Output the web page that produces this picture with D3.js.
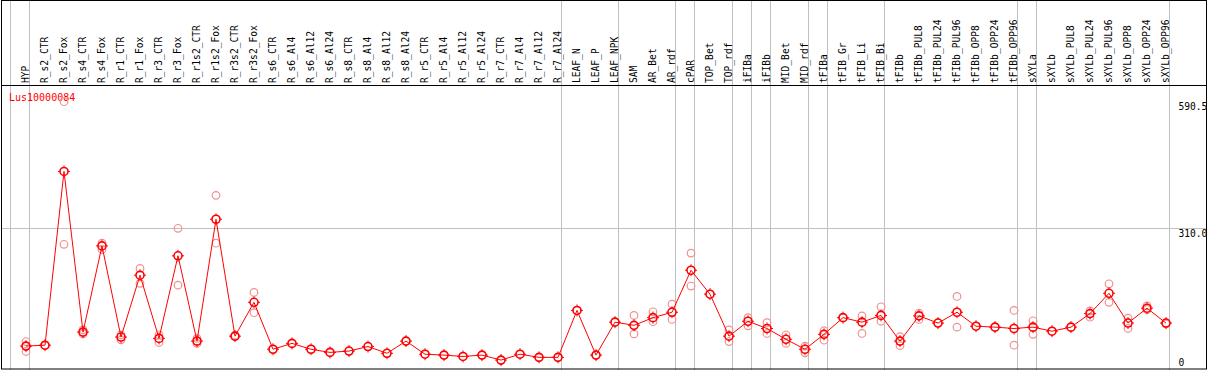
<!DOCTYPE html>
<html>
<head>
<meta charset="utf-8">
<script src="https://cdn.jsdelivr.net/npm/d3@7"></script>
<style>
  body { margin: 0; background: #fff; }
  text { font-family: "DejaVu Sans Mono", monospace; }
</style>
</head>
<body>
<svg width="1209" height="370"></svg>
<script>
const geneId = "Lus10000084";

const categories = ["HYP", "R_s2_CTR", "R_s2_Fox", "R_s4_CTR", "R_s4_Fox", "R_r1_CTR", "R_r1_Fox",
  "R_r3_CTR", "R_r3_Fox", "R_r1s2_CTR", "R_r1s2_Fox", "R_r3s2_CTR", "R_r3s2_Fox",
  "R_s6_CTR", "R_s6_Al4", "R_s6_Al12", "R_s6_Al24", "R_s8_CTR", "R_s8_Al4", "R_s8_Al12", "R_s8_Al24",
  "R_r5_CTR", "R_r5_Al4", "R_r5_Al12", "R_r5_Al24", "R_r7_CTR", "R_r7_Al4", "R_r7_Al12", "R_r7_Al24",
  "LEAF_N", "LEAF_P", "LEAF_NPK", "SAM", "AR_Bet", "AR_rdf", "cPAR", "TOP_Bet", "TOP_rdf",
  "iFIBa", "iFIBb", "MID_Bet", "MID_rdf", "tFIBa", "tFIB_Gr", "tFIB_Li", "tFIB_Bi", "tFIBb",
  "tFIBb_PUL8", "tFIBb_PUL24", "tFIBb_PUL96", "tFIBb_OPP8", "tFIBb_OPP24", "tFIBb_OPP96",
  "sXYLa", "sXYLb", "sXYLb_PUL8", "sXYLb_PUL24", "sXYLb_PUL96", "sXYLb_OPP8", "sXYLb_OPP24", "sXYLb_OPP96"];

// mean expression per sample
const means = [49, 51, 436, 80, 271, 69, 206, 66, 249, 60, 330, 71, 146,
  42, 55, 42, 35, 38, 48, 33, 60, 31, 29, 26, 29, 18, 31, 24, 24,
  128, 29, 102, 95, 112, 124, 217, 164, 71,
  104, 88, 64, 42, 75, 112, 102, 117, 60,
  116, 100, 124, 93, 91, 88,
  91, 82, 91, 121, 166, 100, 133, 100];

// individual replicates
const replicates = [[59, 37, 49], [51, 50], [590.5, 274.5], [76, 85], [277, 263], [74, 63], [221, 188],
  [74, 57], [310, 184], [55, 66], [383, 277], [70, 73], [168, 123],
  [42], [55], [42], [35], [38], [48], [33], [60], [31], [29], [26], [29], [18], [31], [24], [24],
  [128], [29], [102], [117, 76], [125, 103], [142, 108], [255, 182], [164], [85, 59],
  [112, 94], [101, 77], [74, 55], [49, 34], [83, 62], [112], [116, 77], [136, 104], [70, 50],
  [122, 108], [100], [159, 91], [93], [91], [128, 51],
  [105, 75], [82], [91], [127, 113], [187, 146], [111, 88], [138, 130], [100, 98]];

// last sample of each group, followed by a vertical separator
const groupEnds = ["HYP", "R_r7_Al24", "LEAF_NPK", "AR_rdf", "cPAR", "TOP_rdf", "iFIBa", "iFIBb",
  "MID_rdf", "tFIBa", "tFIB_Bi", "tFIBb_OPP96", "sXYLa", "sXYLb_OPP96"];

const yTicks = [0, 310.0, 590.5];

const svg = d3.select("svg"),
      W = +svg.attr("width"),
      H = +svg.attr("height");

const x = d3.scaleBand().domain(categories).range([11, 11 + 19 * categories.length]);
const px = c => x(c) + 15;

const y = d3.scaleLinear().domain([0, 590.5]).range([368.2, 101.7]);

// separators
const seps = [x(categories[0])].concat(groupEnds.map(c => x(c) + x.bandwidth()));
svg.selectAll(".sep")
  .data(seps)
  .enter()
  .append("line")
  .attr("x1", d => Math.round(d) - 0.5)
  .attr("x2", d => Math.round(d) - 0.5)
  .attr("y1", 0)
  .attr("y2", H)
  .attr("stroke", "#c0c0c0");

// horizontal grid at middle tick
svg.append("line")
  .attr("x1", 1).attr("x2", W - 2)
  .attr("y1", Math.round(y(310)) + 0.5)
  .attr("y2", Math.round(y(310)) + 0.5)
  .attr("stroke", "#c0c0c0");

// frame
svg.append("rect")
  .attr("x", 1.5).attr("y", 0.5)
  .attr("width", W - 4).attr("height", H - 1.5)
  .attr("fill", "none")
  .attr("stroke", "#000");
svg.append("line")
  .attr("x1", 1).attr("x2", W - 2)
  .attr("y1", 85.5).attr("y2", 85.5)
  .attr("stroke", "#000");

// sample labels
svg.selectAll(".lab")
  .data(categories)
  .enter()
  .append("text")
  .attr("transform", d => `translate(${px(d) + 3},83) rotate(-90)`)
  .attr("font-size", "9.6px")
  .attr("fill", "#000")
  .text(d => d);

// y labels
svg.selectAll(".ylab")
  .data(yTicks)
  .enter()
  .append("text")
  .attr("x", 1178.5)
  .attr("y", d => Math.min(y(d) + 8.5, 366))
  .attr("font-size", "9.6px")
  .attr("fill", "#000")
  .text(d => d === 0 ? "0" : d.toFixed(1));

// gene id
svg.append("text")
  .attr("x", 9)
  .attr("y", 100.5)
  .attr("font-size", "10px")
  .attr("fill", "#ff0000")
  .text(geneId);

// replicates
const reps = [];
categories.forEach((c, i) => replicates[i].forEach(v => reps.push({ c, v })));
svg.selectAll(".rep")
  .data(reps)
  .enter()
  .append("circle")
  .attr("cx", d => px(d.c))
  .attr("cy", d => y(d.v))
  .attr("r", 3.8)
  .attr("fill", "none")
  .attr("stroke", "#f09090")
  .attr("stroke-width", 1.2);

// mean line
const line = d3.line()
  .x((d, i) => px(categories[i]))
  .y(d => y(d));
svg.append("path")
  .datum(means)
  .attr("d", line)
  .attr("fill", "none")
  .attr("stroke", "#ff0000")
  .attr("stroke-width", 1);

// mean markers
const marks = svg.selectAll(".mark")
  .data(means)
  .enter()
  .append("g")
  .attr("transform", (d, i) => `translate(${px(categories[i])},${y(d)})`);
marks.append("circle")
  .attr("r", 4)
  .attr("fill", "none")
  .attr("stroke", "#ff0000")
  .attr("stroke-width", 1.6);
marks.append("path")
  .attr("d", "M0,-6V-4M0,4V6M-6,0H-4M4,0H6")
  .attr("stroke", "#ff0000")
  .attr("stroke-width", 1);
</script>
</body>
</html>
